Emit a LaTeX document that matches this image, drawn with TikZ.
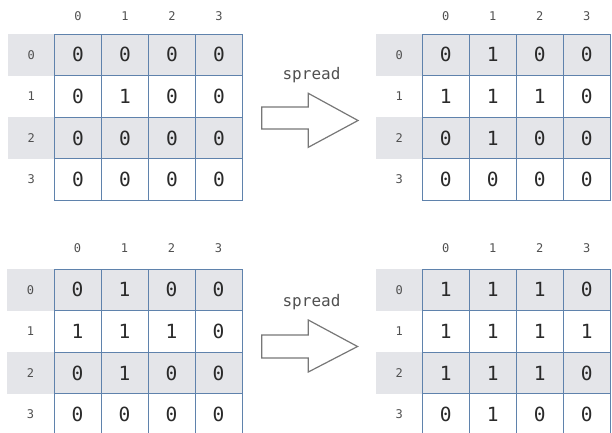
\documentclass[tikz,border=0pt]{standalone}
\usepackage{fontspec}
\setmonofont{DejaVu Sans Mono}
\definecolor{gridblue}{HTML}{5F82AC}
\definecolor{bandgray}{HTML}{E4E5E9}
\definecolor{txt}{HTML}{2A2A2A}
\definecolor{lbl}{HTML}{505050}
\definecolor{arrowgray}{HTML}{777777}
\tikzset{
  cell/.style={draw=gridblue, line width=0.9pt, minimum width=47pt, minimum height=41.6pt,
    inner sep=0pt, font=\ttfamily\fontsize{19.5}{19.5}\selectfont, text=txt},
  shaded/.style={fill=bandgray},
  rowlbl/.style={minimum width=46.5pt, minimum height=41.6pt, inner sep=0pt,
    font=\ttfamily\fontsize{12}{12}\selectfont, text=lbl},
  collbl/.style={inner sep=0pt, font=\ttfamily\fontsize{12}{12}\selectfont, text=lbl},
  spreadlbl/.style={inner sep=0pt, font=\ttfamily\fontsize{16}{16}\selectfont, text=lbl},
  blockarrow/.style={draw=arrowgray, line width=1.2pt, fill=white, line join=miter}
}
% #1 name, #2 grid left x, #3 band left x, #4 grid top y, #5 header y, #6 values
\newcommand{\mygrid}[6]{%
  \foreach \r in {0,1,2,3}{%
    \pgfmathsetmacro{\cy}{#4+20.8+41.6*\r}%
    \ifodd\r
      \node[rowlbl] (#1-r\r) at ({(#3+#2)/2},\cy) {\r};
    \else
      \node[rowlbl, shaded, minimum width={#2-#3}] (#1-r\r) at ({(#3+#2)/2},\cy) {\r};
    \fi
    \node[collbl] (#1-h\r) at ({#2+23.5+47*\r},#5) {\r};
  }%
  \foreach \v [count=\i from 0] in {#6}{%
    \pgfmathtruncatemacro{\rr}{int(\i/4)}%
    \pgfmathtruncatemacro{\cc}{mod(\i,4)}%
    \pgfmathsetmacro{\cx}{#2+23.5+47*\cc}%
    \pgfmathsetmacro{\cy}{#4+20.8+41.6*\rr}%
    \ifodd\rr
      \node[cell] (#1-\rr-\cc) at (\cx,\cy) {\v};
    \else
      \node[cell, shaded] (#1-\rr-\cc) at (\cx,\cy) {\v};
    \fi
  }%
}
\begin{document}
\begin{tikzpicture}[x=1pt,y=-1pt]
\useasboundingbox (0,0) rectangle (612,432);
\clip (0,0) rectangle (612,432);
\mygrid{A}{54.5}{8}{34}{16}{0,0,0,0, 0,1,0,0, 0,0,0,0, 0,0,0,0}
\mygrid{B}{422.3}{376}{34}{16}{0,1,0,0, 1,1,1,0, 0,1,0,0, 0,0,0,0}
\mygrid{C}{54}{7}{269}{248}{0,1,0,0, 1,1,1,0, 0,1,0,0, 0,0,0,0}
\mygrid{D}{422.3}{376}{269}{248}{1,1,1,0, 1,1,1,1, 1,1,1,0, 0,1,0,0}
% arrows
\node[spreadlbl] (s1) at (311.5,75) {spread};
\draw[blockarrow] (261.7,107) -- (308.3,107) -- (308.3,93.3) -- (358,120.5)
  -- (308.3,147.3) -- (308.3,129) -- (261.7,129) -- cycle;
\node[spreadlbl] (s2) at (311.5,302) {spread};
\draw[blockarrow] (261.7,335) -- (308.3,335) -- (308.3,320) -- (357.5,346.5)
  -- (308.3,372) -- (308.3,358) -- (261.7,358) -- cycle;
\end{tikzpicture}
\end{document}
